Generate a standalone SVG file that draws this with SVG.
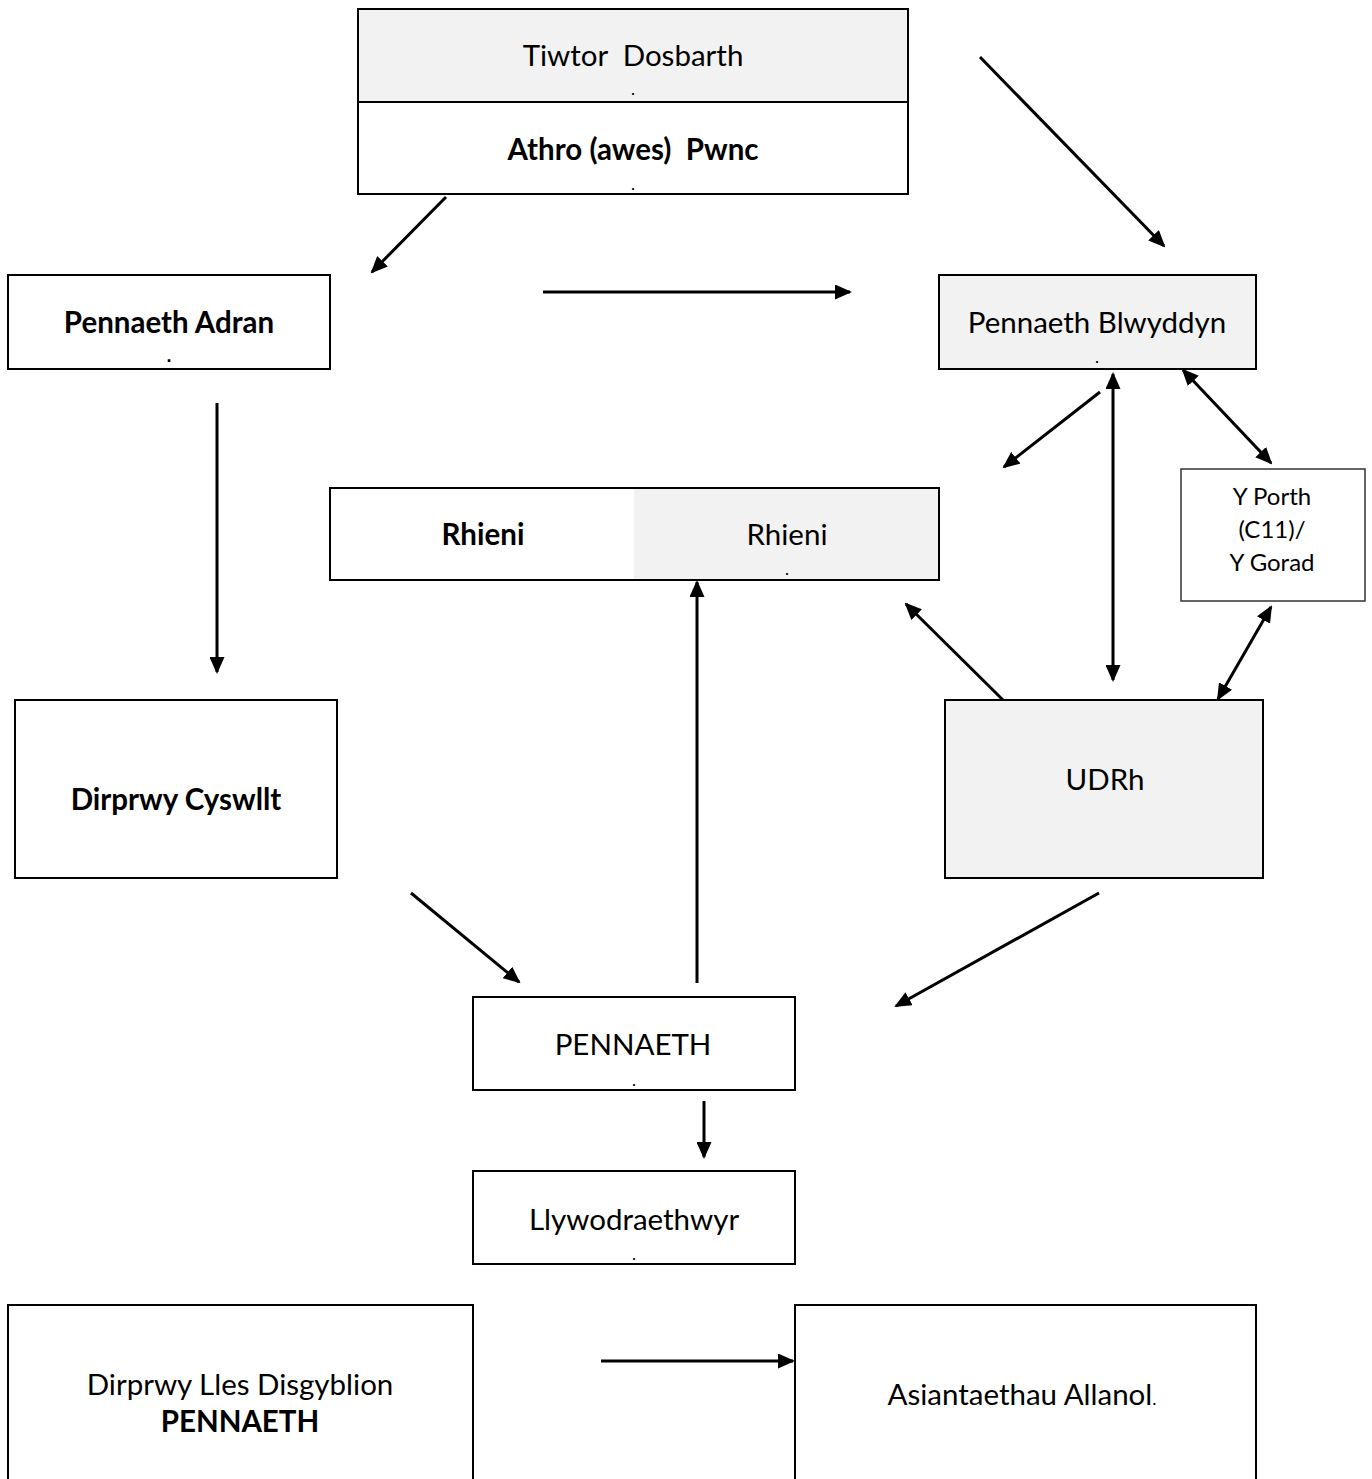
<svg xmlns="http://www.w3.org/2000/svg" width="1372" height="1479" viewBox="0 0 1372 1479">
<style>
.box{stroke:#000;stroke-width:2;fill:#fff}
.grey{fill:#f2f2f2}
.t{font-family:Lato,"Liberation Sans",sans-serif;font-size:29.5px;fill:#000;text-anchor:middle;white-space:pre}
.b{font-weight:bold}
.s{font-size:24px}
.dot{font-family:"Liberation Sans",sans-serif;font-size:18px;fill:#000;text-anchor:middle}
.c{stroke:#000;stroke-width:3;fill:none}
</style>
<defs>
<marker id="ah" markerUnits="userSpaceOnUse" markerWidth="17" markerHeight="15" refX="15" refY="7.5" orient="auto">
<path d="M0,0 L17,7.5 L0,15 Z" fill="#000"/>
</marker>
<marker id="as" markerUnits="userSpaceOnUse" markerWidth="17" markerHeight="15" refX="2" refY="7.5" orient="auto">
<path d="M17,0 L0,7.5 L17,15 Z" fill="#000"/>
</marker>
</defs>
<rect width="1372" height="1479" fill="#fff"/>

<g id="n-tiwtor">
<rect class="box" x="358" y="9" width="550" height="185"/>
<rect class="grey" x="359" y="10" width="548" height="92"/>
<line x1="358" y1="102" x2="908" y2="102" stroke="#000" stroke-width="2"/>
<text class="t" x="633" y="66" xml:space="preserve">Tiwtor  Dosbarth</text>
<text class="dot" x="633" y="95">.</text>
<text class="t b" x="633" y="160" xml:space="preserve">Athro (awes)  Pwnc</text>
<text class="dot" x="633" y="190">.</text>
</g>

<g id="n-adran">
<rect class="box" x="8" y="275" width="322" height="94"/>
<text class="t b" x="169" y="333">Pennaeth Adran</text>
<text class="dot b" x="169" y="362">.</text>
</g>

<g id="n-blwyddyn">
<rect class="box grey" x="939" y="275" width="317" height="94"/>
<text class="t" x="1097" y="333">Pennaeth Blwyddyn</text>
<text class="dot" x="1097" y="363">.</text>
</g>

<g id="n-porth">
<rect x="1181" y="469" width="184" height="132" fill="#fff" stroke="#333" stroke-width="1.5"/>
<text class="t s" x="1272" y="505">Y Porth</text>
<text class="t s" x="1272" y="538">(C11)/</text>
<text class="t s" x="1272" y="571">Y Gorad</text>
</g>

<g id="n-rhieni">
<rect class="box" x="330" y="488" width="609" height="92"/>
<rect class="grey" x="634" y="489" width="304" height="90"/>
<text class="t b" x="483" y="545">Rhieni</text>
<text class="t" x="787" y="545">Rhieni</text>
<text class="dot" x="787" y="575">.</text>
</g>

<g id="n-cyswllt">
<rect class="box" x="15" y="700" width="322" height="178"/>
<text class="t b" x="176" y="810">Dirprwy Cyswllt</text>
</g>

<g id="n-udrh">
<rect class="box grey" x="945" y="700" width="318" height="178"/>
<text class="t" x="1105" y="790">UDRh</text>
</g>

<g id="n-pennaeth">
<rect class="box" x="473" y="997" width="322" height="93"/>
<text class="t" x="633" y="1055">PENNAETH</text>
<text class="dot" x="634" y="1086">.</text>
</g>

<g id="n-llyw">
<rect class="box" x="473" y="1171" width="322" height="93"/>
<text class="t" x="634" y="1230">Llywodraethwyr</text>
<text class="dot" x="634" y="1260">.</text>
</g>

<g id="n-lles">
<rect class="box" x="8" y="1305" width="465" height="190"/>
<text class="t" x="240" y="1395">Dirprwy Lles Disgyblion</text>
<text class="t b" x="240" y="1432">PENNAETH</text>
</g>

<g id="n-asiant">
<rect class="box" x="795" y="1305" width="461" height="190"/>
<text class="t" x="1022" y="1405">Asiantaethau Allanol<tspan style="font-size:18px">.</tspan></text>
</g>

<g id="connectors">
<line class="c" x1="446" y1="197" x2="372" y2="272" marker-end="url(#ah)"/>
<line class="c" x1="543" y1="292" x2="850" y2="292" marker-end="url(#ah)" stroke-width="2.5"/>
<line class="c" x1="980" y1="57" x2="1164" y2="246" marker-end="url(#ah)"/>
<line class="c" x1="217" y1="403" x2="217" y2="672" marker-end="url(#ah)"/>
<line class="c" x1="1100" y1="392" x2="1004" y2="467" marker-end="url(#ah)" stroke-width="3.5"/>
<line class="c" x1="1113" y1="374" x2="1113" y2="680" marker-start="url(#as)" marker-end="url(#ah)" stroke-width="2"/>
<line class="c" x1="1183" y1="370" x2="1271" y2="463" marker-start="url(#as)" marker-end="url(#ah)" stroke-width="2"/>
<line class="c" x1="1271" y1="607" x2="1218" y2="699" marker-start="url(#as)" marker-end="url(#ah)" stroke-width="2"/>
<line class="c" x1="1003" y1="700" x2="906" y2="604" marker-end="url(#ah)"/>
<line class="c" x1="697" y1="983" x2="697" y2="582" marker-end="url(#ah)"/>
<line class="c" x1="411" y1="893" x2="519" y2="982" marker-end="url(#ah)"/>
<line class="c" x1="1099" y1="893" x2="896" y2="1006" marker-end="url(#ah)"/>
<line class="c" x1="704" y1="1101" x2="704" y2="1157" marker-end="url(#ah)" stroke-width="4"/>
<line class="c" x1="601" y1="1361" x2="793" y2="1361" marker-end="url(#ah)"/>
</g>
</svg>
